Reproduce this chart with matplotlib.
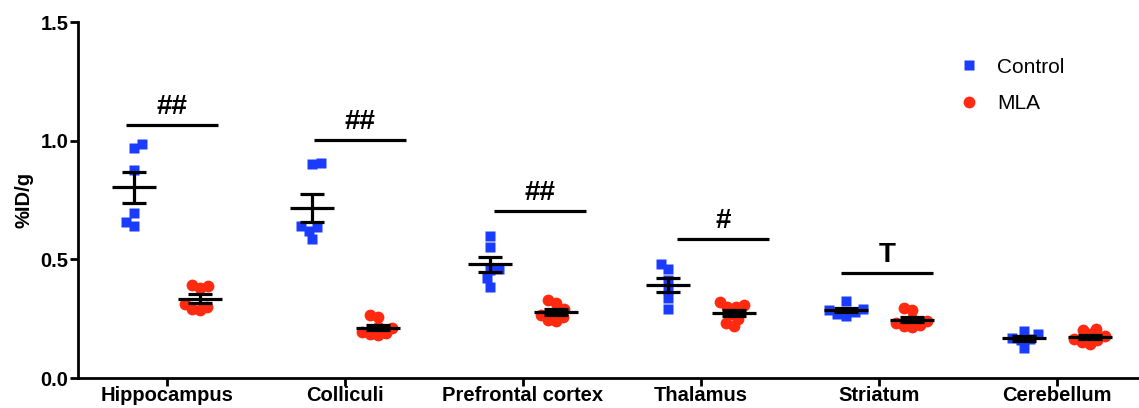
import numpy as np
import matplotlib.pyplot as plt
from matplotlib.lines import Line2D

plt.rcParams['font.family'] = ['Liberation Sans', 'DejaVu Sans']

regions = ['Hippocampus', 'Colliculi', 'Prefrontal cortex', 'Thalamus',
           'Striatum', 'Cerebellum']

# %ID/g per animal
control = [
    [0.968, 0.986, 0.877, 0.694, 0.642, 0.656],
    [0.905, 0.900, 0.638, 0.586, 0.621, 0.641],
    [0.600, 0.550, 0.460, 0.455, 0.420, 0.385],
    [0.480, 0.459, 0.413, 0.375, 0.336, 0.289],
    [0.325, 0.292, 0.288, 0.278, 0.268, 0.262],
    [0.200, 0.185, 0.170, 0.165, 0.160, 0.125],
]
mla = [
    [0.388, 0.378, 0.392, 0.300, 0.287, 0.289, 0.310],
    [0.265, 0.257, 0.215, 0.210, 0.195, 0.185, 0.180, 0.190],
    [0.329, 0.317, 0.290, 0.280, 0.265, 0.255, 0.245, 0.240],
    [0.319, 0.298, 0.298, 0.308, 0.249, 0.219, 0.233, 0.270],
    [0.296, 0.287, 0.250, 0.240, 0.230, 0.225, 0.220, 0.215],
    [0.206, 0.202, 0.185, 0.175, 0.165, 0.160, 0.150, 0.145],
]

# significance marks: label, bar height, bar start relative to category
sig_labels = ['##', '##', '##', '#', 'T']
sig_height = [1.066, 1.003, 0.705, 0.586, 0.444]
sig_start = [-0.23, -0.174, -0.163, -0.135, -0.213]
sig_len = 0.517

blue = '#1a3cff'
red = '#ff2a10'

W, H = 1139, 408
px_x = 178.0    # pixels per category
px_y = 237.3    # pixels per 1 %ID/g


def swarm(vals, xc, size):
    # beeswarm in pixel space, alternating sides to keep the cloud centred
    vals = np.sort(np.asarray(vals, dtype=float))
    placed = []
    xs = []
    side = 1.0
    for v in vals:
        y = v * px_y
        k = 0
        hit = None
        while hit is None:
            cands = [0.0] if k == 0 else [-side * k * 0.5, side * k * 0.5]
            for o in cands:
                if all((o - a) ** 2 + (y - b) ** 2 >= size ** 2 for a, b in placed):
                    hit = o
                    break
            k += 1
        if hit != 0:
            side = np.sign(hit)
        placed.append((hit, y))
        xs.append(xc + hit / px_x)
    return np.array(xs), vals


fig = plt.figure(figsize=(W / 100, H / 100), dpi=100)
ax = fig.add_axes([78 / W, 30 / H, 6 * px_x / W, 1.5 * px_y / H])
ax.set_xlim(-0.5, 5.5)
ax.set_ylim(0, 1.5)

off = 0.185

for group, color, marker, sign, ms, size in [(control, blue, 's', -1, 7.2, 9),
                                             (mla, red, 'o', 1, 8.5, 8)]:
    allx, ally = [], []
    for i, vals in enumerate(group):
        xc = i + sign * off
        xs, ys = swarm(vals, xc, size)
        allx.extend(xs)
        ally.extend(ys)
    ax.plot(allx, ally, ls='none', marker=marker, ms=ms, color=color,
            mec='none', zorder=2)
    for i, vals in enumerate(group):
        xc = i + sign * off
        v = np.asarray(vals)
        m = v.mean()
        sem = v.std(ddof=1) / np.sqrt(len(v))
        ax.hlines(m, xc - 0.124, xc + 0.124, color='black', lw=2.3, zorder=3)
        ax.hlines([m - sem, m + sem], xc - 0.067, xc + 0.067, color='black',
                  lw=2.3, zorder=3)
        ax.vlines(xc, m - sem, m + sem, color='black', lw=2.3, zorder=3)

for i, lab in enumerate(sig_labels):
    x0 = i + sig_start[i]
    ax.hlines(sig_height[i], x0, x0 + sig_len, color='black', lw=2.3)
    ax.text(x0 + sig_len / 2, sig_height[i] + 0.076, lab, ha='center',
            va='center', fontsize=20, fontweight='bold')

ax.set_xticks(range(len(regions)))
ax.set_xticklabels(regions)
ax.set_yticks([0, 0.5, 1.0, 1.5])
ax.set_yticklabels(['0.0', '0.5', '1.0', '1.5'])
ax.tick_params(axis='both', width=2, length=5.5, labelsize=14.5)
ax.tick_params(axis='y', pad=1.5)
ax.tick_params(axis='x', pad=0.5)
for t in ax.get_xticklabels() + ax.get_yticklabels():
    t.set_fontweight('bold')
ax.set_ylabel('%ID/g', fontsize=14.5, fontweight='bold', labelpad=5)

for s in ['top', 'right']:
    ax.spines[s].set_visible(False)
for s in ['left', 'bottom']:
    ax.spines[s].set_linewidth(2)

handles = [Line2D([], [], ls='none', marker='s', ms=7.2, color=blue, mec='none'),
           Line2D([], [], ls='none', marker='o', ms=8.5, color=red, mec='none')]
fig.legend(handles, ['Control', 'MLA'], loc='upper left',
           bbox_to_anchor=(935 / W, 1 - 39 / H), frameon=False, fontsize=15,
           handlelength=1.5, handletextpad=0.6, labelspacing=0.85)

fig.savefig('out.png', dpi=100)
